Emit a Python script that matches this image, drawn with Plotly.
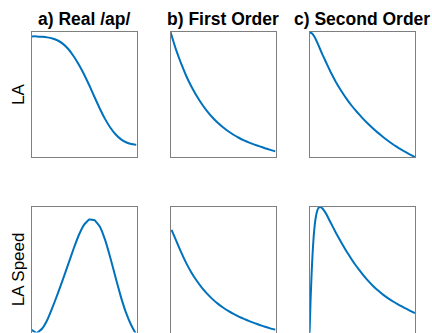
import plotly.graph_objects as go

# ---- data (normalised) ----
titles = ["a) Real /ap/", "b) First Order", "c) Second Order"]
row_labels = ["LA", "LA Speed"]

a_la_x = [0.0, 0.05, 0.1, 0.15, 0.2, 0.25, 0.3, 0.35, 0.4, 0.45, 0.5, 0.55, 0.6, 0.65, 0.7, 0.75, 0.8, 0.85, 0.9, 0.95, 1.0]
a_la_y = [0.965, 0.965, 0.962, 0.957, 0.948, 0.932, 0.905, 0.864, 0.808, 0.74, 0.662, 0.574, 0.48, 0.388, 0.305, 0.236, 0.182, 0.143, 0.118, 0.104, 0.097]

b_la_x = [0.0, 0.05, 0.1, 0.15, 0.2, 0.25, 0.3, 0.35, 0.4, 0.45, 0.5, 0.55, 0.6, 0.65, 0.7, 0.75, 0.8, 0.85, 0.9, 0.95, 1.0]
b_la_y = [1.0, 0.865, 0.75, 0.648, 0.562, 0.488, 0.422, 0.365, 0.316, 0.274, 0.238, 0.206, 0.178, 0.154, 0.133, 0.115, 0.099, 0.085, 0.07, 0.057, 0.045]

c_la_x = [0.0, 0.025, 0.05, 0.075, 0.1, 0.125, 0.15, 0.2, 0.25, 0.3, 0.35, 0.4, 0.45, 0.5, 0.55, 0.6, 0.65, 0.7, 0.75, 0.8, 0.85, 0.9, 0.95, 1.0]
c_la_y = [1.0, 0.988, 0.958, 0.913, 0.864, 0.815, 0.77, 0.68, 0.6, 0.53, 0.467, 0.41, 0.36, 0.313, 0.27, 0.23, 0.193, 0.158, 0.126, 0.096, 0.069, 0.044, 0.021, 0.0]

a_sp_x = [0.0, 0.05, 0.1, 0.15, 0.2, 0.25, 0.3, 0.35, 0.4, 0.45, 0.5, 0.55, 0.6, 0.65, 0.7, 0.75, 0.8, 0.85, 0.9, 0.95, 1.0]
a_sp_y = [0.021, -0.003, 0.03, 0.1, 0.2, 0.31, 0.425, 0.545, 0.665, 0.775, 0.858, 0.9, 0.895, 0.845, 0.74, 0.598, 0.44, 0.288, 0.158, 0.058, -0.02]

b_sp_x = [0.01, 0.05, 0.1, 0.15, 0.2, 0.25, 0.3, 0.35, 0.4, 0.45, 0.5, 0.55, 0.6, 0.65, 0.7, 0.75, 0.8, 0.85, 0.9, 0.95, 1.0]
b_sp_y = [0.818, 0.74, 0.642, 0.553, 0.477, 0.412, 0.356, 0.308, 0.266, 0.23, 0.199, 0.172, 0.148, 0.127, 0.108, 0.091, 0.075, 0.06, 0.046, 0.033, 0.022]

c_sp_x = [0.0, 0.01, 0.02, 0.03, 0.04, 0.05, 0.06, 0.07, 0.08, 0.09, 0.1, 0.11, 0.125, 0.15, 0.175, 0.2, 0.25, 0.3, 0.35, 0.4, 0.45, 0.5, 0.55, 0.6, 0.65, 0.7, 0.75, 0.8, 0.85, 0.9, 0.95, 1.0]
c_sp_y = [-0.02, 0.25, 0.47, 0.64, 0.77, 0.86, 0.92, 0.96, 0.985, 0.997, 1.0, 0.997, 0.986, 0.957, 0.918, 0.876, 0.795, 0.72, 0.648, 0.582, 0.522, 0.467, 0.417, 0.373, 0.334, 0.30, 0.27, 0.243, 0.219, 0.196, 0.175, 0.155]

series = [
    (a_la_x, a_la_y), (b_la_x, b_la_y), (c_la_x, c_la_y),
    (a_sp_x, a_sp_y), (b_sp_x, b_sp_y), (c_sp_x, c_sp_y),
]

# ---- layout geometry (pixels) ----
W, H = 432, 333
col_px = [(31.5, 136.5), (170.5, 275.5), (309.5, 415.0)]
row_px = [(32.0, 157.0), (207.0, 332.5)]
LINE_COLOR = "#0072BD"
BOX_COLOR = "#7f7f7f"

fig = go.Figure()
layout = dict(
    width=W, height=H,
    margin=dict(l=0, r=0, t=0, b=0),
    paper_bgcolor="white", plot_bgcolor="white",
    showlegend=False,
    font=dict(family="Liberation Sans, Arial, sans-serif", color="black"),
)

annotations = []
idx = 0
for r in range(2):
    for c in range(3):
        idx += 1
        xs, ys = series[idx - 1]
        xname = "xaxis" if idx == 1 else f"xaxis{idx}"
        yname = "yaxis" if idx == 1 else f"yaxis{idx}"
        xref = "x" if idx == 1 else f"x{idx}"
        yref = "y" if idx == 1 else f"y{idx}"
        x0, x1 = col_px[c]
        y0, y1 = row_px[r]
        ax_common = dict(showticklabels=False, ticks="", showgrid=False, zeroline=False,
                         showline=True, mirror=True, linecolor=BOX_COLOR, linewidth=1,
                         fixedrange=True)
        layout[xname] = dict(domain=[x0 / W, x1 / W], range=[0, 1], anchor=yref, **ax_common)
        layout[yname] = dict(domain=[(H - y1) / H, (H - y0) / H], range=[0, 1], anchor=xref, **ax_common)
        fig.add_trace(go.Scatter(x=xs, y=ys, mode="lines", xaxis=xref, yaxis=yref,
                                 line=dict(color=LINE_COLOR, width=2, shape="spline", smoothing=0.3),
                                 hoverinfo="skip"))

for c, t in enumerate(titles):
    x0, x1 = col_px[c]
    annotations.append(dict(text=f"<b>{t}</b>", x=(x0 + x1) / 2 / W, y=(H - 19) / H,
                            xref="paper", yref="paper", xanchor="center", yanchor="middle",
                            showarrow=False, font=dict(size=17.5, color="black")))

for r, t in enumerate(row_labels):
    y0, y1 = row_px[r]
    annotations.append(dict(text=t, x=18.5 / W, y=(H - (y0 + y1) / 2) / H,
                            xref="paper", yref="paper", xanchor="center", yanchor="middle",
                            textangle=-90, showarrow=False, font=dict(size=17, color="black")))

layout["annotations"] = annotations
fig.update_layout(**layout)
fig.write_html("out.html", config={"displayModeBar": False})
